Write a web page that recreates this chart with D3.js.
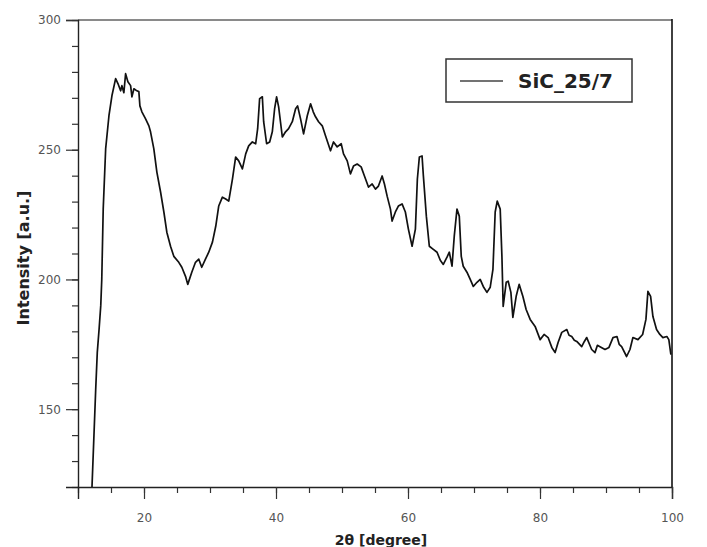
<!DOCTYPE html>
<html>
<head>
<meta charset="utf-8">
<script src="https://cdn.jsdelivr.net/npm/d3@7"></script>
<style>
html,body{margin:0;padding:0;background:#fff;}
svg{display:block;}
</style>
</head>
<body>
<svg id="chart" width="707" height="547"></svg>
<script>
// ---- data ----
const seriesName = "SiC_25/7";
const twoTheta = [12.12,12.68,12.92,13.20,13.45,13.60,13.82,14.19,14.69,15.14,15.70,16.05,16.46,16.65,16.95,17.21,17.56,17.97,18.17,18.47,18.92,19.22,19.38,19.68,20.24,20.74,20.99,21.49,21.95,22.51,23.01,23.46,24.02,24.52,25.27,25.73,26.29,26.63,27.24,27.80,28.30,28.75,29.31,29.81,30.37,30.87,31.32,31.88,32.38,32.84,33.40,33.89,34.35,34.91,35.41,35.86,36.42,36.92,37.22,37.52,37.93,38.13,38.58,39.04,39.44,39.79,40.09,40.40,40.96,41.45,41.91,42.47,42.97,43.27,43.72,44.18,44.74,45.24,45.64,45.99,46.45,47.01,47.50,48.26,48.71,49.27,49.88,50.23,50.79,51.28,51.74,52.30,52.90,53.40,54.01,54.57,55.07,55.52,56.08,56.43,56.84,57.34,57.59,58.09,58.54,59.10,59.60,60.06,60.62,61.12,61.42,61.72,62.13,62.33,62.78,63.23,63.84,64.40,64.89,65.35,65.91,66.26,66.67,67.01,67.42,67.77,68.07,68.37,68.93,69.43,69.89,70.45,70.94,71.40,71.96,72.46,72.87,73.21,73.52,73.97,74.23,74.42,74.88,75.18,75.59,75.89,76.39,76.84,77.40,77.90,78.51,79.26,80.02,80.62,81.23,81.79,82.29,82.74,83.30,84.06,84.40,84.81,85.20,85.57,86.32,86.70,87.08,87.83,88.33,88.70,89.09,89.85,90.45,91.06,91.66,92.00,92.37,93.12,93.63,94.08,94.84,95.55,96.05,96.35,96.76,97.11,97.66,98.16,98.62,99.22,99.52,99.83];
const intensity = [120.0,157.5,171.8,181.0,190.0,200.0,227.1,250.3,263.1,270.8,277.4,275.5,272.7,274.7,272.0,279.3,276.2,274.7,270.4,273.5,272.7,272.4,266.9,264.6,261.9,259.2,256.9,250.3,241.4,233.7,226.0,218.2,212.8,208.9,206.6,204.7,201.2,198.1,202.8,206.6,207.8,204.7,207.8,210.5,214.4,220.5,228.3,231.7,231.0,230.2,238.7,247.2,245.7,242.6,248.4,251.5,253.0,252.3,258.1,269.7,270.4,260.8,252.3,253.0,256.9,265.8,270.4,266.5,254.9,256.9,258.1,260.8,265.8,266.9,261.9,256.1,263.1,267.7,264.6,262.7,260.8,259.2,255.4,249.6,253.0,251.1,252.3,248.4,245.7,240.7,243.7,244.5,243.4,239.9,235.6,236.8,234.8,236.0,239.9,236.8,232.1,227.1,222.5,226.0,228.3,229.1,226.0,219.4,212.8,219.4,238.7,247.2,247.6,239.9,224.4,212.8,211.6,210.5,207.4,205.8,208.6,210.5,205.1,216.7,227.1,224.4,208.9,205.1,202.8,200.0,197.3,198.9,200.0,197.3,195.0,197.0,203.9,226.0,230.2,227.1,208.9,189.6,198.9,199.3,195.0,185.4,193.5,198.1,193.5,188.4,184.6,181.9,176.8,178.8,177.6,173.8,171.8,175.7,179.6,180.7,178.5,178.0,176.6,176.1,174.1,176.0,177.6,173.0,171.8,174.6,174.1,173.0,173.8,177.6,178.0,175.0,174.1,170.3,173.0,177.6,176.8,178.8,184.6,195.4,193.5,185.7,180.7,178.8,177.6,178.0,176.8,171.0];
const xTickValues = [20, 40, 60, 80, 100];
const yTickValues = [150, 200, 250, 300];
const xDomain = [10, 100];
const yDomain = [120, 300];
const xLabel = "2\u03b8 [degree]";
const yLabel = "Intensity [a.u.]";

// ---- layout ----
const W = 707, H = 547;
const m = {left: 78, right: 35, top: 20, bottom: 60};
const svg = d3.select("#chart");
const x = d3.scaleLinear().domain(xDomain).range([m.left, W - m.right]);
const y = d3.scaleLinear().domain(yDomain).range([H - m.bottom, m.top]);
const font = "'DejaVu Sans', Verdana, sans-serif";

svg.append("rect").attr("width", W).attr("height", H).attr("fill", "#fff");

// frame: top and right
svg.append("line").attr("x1", x(10)).attr("x2", x(100)).attr("y1", y(300)).attr("y2", y(300))
  .attr("stroke", "#8a8a8a").attr("stroke-width", 2);
svg.append("line").attr("x1", x(100)).attr("x2", x(100)).attr("y1", y(300) - 1).attr("y2", y(120))
  .attr("stroke", "#111").attr("stroke-width", 1.6);

// minor ticks
const xMinor = d3.range(10, 100.001, 5);
const yMinor = d3.range(120, 300.001, 10);

const gx = svg.append("g").attr("transform", `translate(0,${y(120)})`);
gx.call(d3.axisBottom(x).tickValues(xMinor).tickSize(6).tickFormat(""));
gx.select(".domain").remove();
gx.selectAll("line").attr("stroke", "#333").attr("stroke-width", 1.2);
const gx2 = svg.append("g").attr("transform", `translate(0,${y(120)})`);
gx2.call(d3.axisBottom(x).tickValues(xTickValues).tickSize(12).tickPadding(14).tickFormat(d3.format("d")));
gx2.select(".domain").attr("stroke", "#222").attr("stroke-width", 1.4);
gx2.selectAll("line").attr("stroke", "#333").attr("stroke-width", 1.2);
gx2.selectAll("text").attr("font-family", font).attr("font-size", 12).attr("fill", "#555");

const gy = svg.append("g").attr("transform", `translate(${x(10)},0)`);
gy.call(d3.axisLeft(y).tickValues(yMinor).tickSize(6).tickFormat(""));
gy.select(".domain").remove();
gy.selectAll("line").attr("stroke", "#333").attr("stroke-width", 1.2);
const gy2 = svg.append("g").attr("transform", `translate(${x(10)},0)`);
gy2.call(d3.axisLeft(y).tickValues(yTickValues).tickSize(12).tickPadding(5).tickFormat(d3.format("d")));
gy2.select(".domain").attr("stroke", "#222").attr("stroke-width", 1.4);
gy2.selectAll("line").attr("stroke", "#333").attr("stroke-width", 1.2);
gy2.selectAll("text").attr("font-family", font).attr("font-size", 12).attr("fill", "#555");

// axis titles
svg.append("text").attr("x", 381).attr("y", 545)
  .attr("text-anchor", "middle").attr("font-family", font).attr("font-weight", "bold")
  .attr("font-size", 14).attr("fill", "#222").text(xLabel);
svg.append("text").attr("transform", `translate(29,${258}) rotate(-90)`)
  .attr("text-anchor", "middle").attr("font-family", font).attr("font-weight", "bold")
  .attr("font-size", 16).attr("fill", "#222").text(yLabel);

// data line
const pts = twoTheta.map((t, i) => [t, intensity[i]]);
svg.append("path").datum(pts)
  .attr("fill", "none").attr("stroke", "#111").attr("stroke-width", 1.7)
  .attr("stroke-linejoin", "round")
  .attr("d", d3.line().x(d => x(d[0])).y(d => y(d[1])));

// legend
const lg = svg.append("g");
lg.append("rect").attr("x", 446).attr("y", 59).attr("width", 186).attr("height", 43)
  .attr("fill", "#fff").attr("stroke", "#333").attr("stroke-width", 1.5);
lg.append("line").attr("x1", 460).attr("x2", 503).attr("y1", 81).attr("y2", 81)
  .attr("stroke", "#444").attr("stroke-width", 1.6);
lg.append("text").attr("x", 518).attr("y", 88).attr("font-family", font).attr("font-weight", "bold")
  .attr("font-size", 20).attr("fill", "#222").text(seriesName);
</script>
</body>
</html>
